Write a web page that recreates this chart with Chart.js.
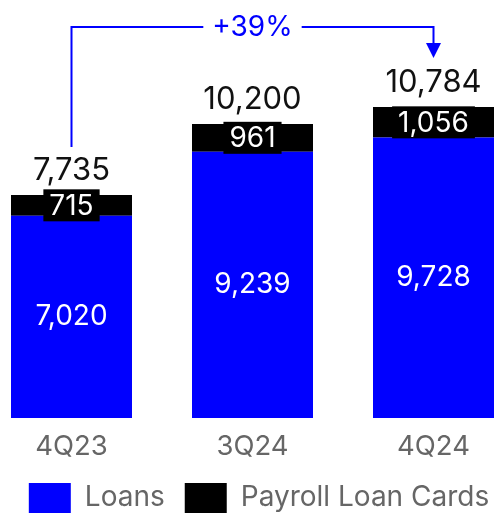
<!DOCTYPE html>
<html>
<head>
<meta charset="utf-8">
<script src="https://cdn.jsdelivr.net/npm/chart.js@4"></script>
<style>
  html, body { margin: 0; padding: 0; background: #fff; overflow: hidden; }
  #loanCanvas { position: absolute; left: -19px; top: 0; }
</style>
</head>
<body>
<canvas id="loanCanvas" width="556" height="523"></canvas>
<script>
const quarters = ['4Q23', '3Q24', '4Q24'];
const loans = [7020, 9239, 9728];
const payrollCards = [715, 961, 1056];
const totals = loans.map((v, i) => v + payrollCards[i]);
const growthLabel = '+39%';

const BLUE = '#0000ff';
const FONT = 'Inter';
const fmt = v => v.toLocaleString('en-US');

// numbers inside the segments and totals above each stack
const valueLabels = {
  id: 'valueLabels',
  afterDatasetsDraw(chart) {
    const ctx = chart.ctx;
    const loanBars = chart.getDatasetMeta(0).data;
    const cardBars = chart.getDatasetMeta(1).data;
    ctx.save();
    ctx.textAlign = 'center';
    ctx.textBaseline = 'middle';

    loanBars.forEach((bar, i) => {
      ctx.font = `28px ${FONT}`;
      ctx.fillStyle = '#fff';
      ctx.fillText(fmt(loans[i]), bar.x, (bar.y + bar.base) / 2);
    });

    cardBars.forEach((bar, i) => {
      const text = fmt(payrollCards[i]);
      const cy = (bar.y + bar.base) / 2;
      ctx.font = `28px ${FONT}`;
      const w = ctx.measureText(text).width + 12;
      ctx.fillStyle = '#000';
      ctx.fillRect(bar.x - w / 2, cy - 16, w, 32);
      ctx.fillStyle = '#fff';
      ctx.fillText(text, bar.x, cy + 1);

      ctx.font = `31px ${FONT}`;
      ctx.fillStyle = '#111';
      ctx.fillText(fmt(totals[i]), bar.x, bar.y - 24);
    });
    ctx.restore();
  }
};

// growth bracket from the first stack to the last one
const growthBracket = {
  id: 'growthBracket',
  afterDraw(chart) {
    const ctx = chart.ctx;
    const bars = chart.getDatasetMeta(1).data;
    const first = bars[0];
    const last = bars[bars.length - 1];
    const lineY = 27;
    const startY = first.y - 48;
    const tipY = last.y - 49;
    const midX = (first.x + last.x) / 2;

    ctx.save();
    ctx.font = `28px ${FONT}`;
    ctx.textAlign = 'center';
    ctx.textBaseline = 'middle';
    const gap = ctx.measureText(growthLabel).width / 2 + 9;

    ctx.strokeStyle = BLUE;
    ctx.lineWidth = 2;
    ctx.beginPath();
    ctx.moveTo(first.x, startY);
    ctx.lineTo(first.x, lineY);
    ctx.lineTo(midX - gap, lineY);
    ctx.moveTo(midX + gap, lineY);
    ctx.lineTo(last.x, lineY);
    ctx.lineTo(last.x, tipY - 14);
    ctx.stroke();

    ctx.fillStyle = BLUE;
    ctx.beginPath();
    ctx.moveTo(last.x - 7.5, tipY - 15);
    ctx.lineTo(last.x + 7.5, tipY - 15);
    ctx.lineTo(last.x, tipY);
    ctx.closePath();
    ctx.fill();

    ctx.fillText(growthLabel, midX, lineY + 1);
    ctx.restore();
  }
};

new Chart(document.getElementById('loanCanvas'), {
  type: 'bar',
  data: {
    labels: quarters,
    datasets: [
      { label: 'Loans', data: loans, backgroundColor: BLUE, borderWidth: 0 },
      { label: 'Payroll Loan Cards', data: payrollCards, backgroundColor: '#000', borderWidth: 0 }
    ]
  },
  options: {
    responsive: false,
    animation: false,
    layout: { padding: 0 },
    datasets: {
      bar: { categoryPercentage: 1, barPercentage: 121 / 181 }
    },
    scales: {
      x: {
        stacked: true,
        grid: { display: false, drawTicks: false },
        border: { display: false },
        ticks: { color: '#666', padding: 12, font: { family: FONT, size: 27.5 } },
        afterFit(scale) { scale.height = 45; }
      },
      y: {
        stacked: true,
        position: 'right',
        min: 0,
        max: 14500,
        grid: { display: false, drawTicks: false },
        border: { display: false },
        ticks: { display: false },
        // empty strip on the right so the legend sits a little off-centre
        afterFit(scale) { scale.width = 13; }
      }
    },
    plugins: {
      legend: {
        position: 'bottom',
        labels: {
          boxWidth: 42,
          boxHeight: 30,
          padding: 20,
          color: '#666',
          font: { family: FONT, size: 28 }
        }
      },
      tooltip: { enabled: false }
    }
  },
  plugins: [valueLabels, growthBracket]
});
</script>
</body>
</html>
